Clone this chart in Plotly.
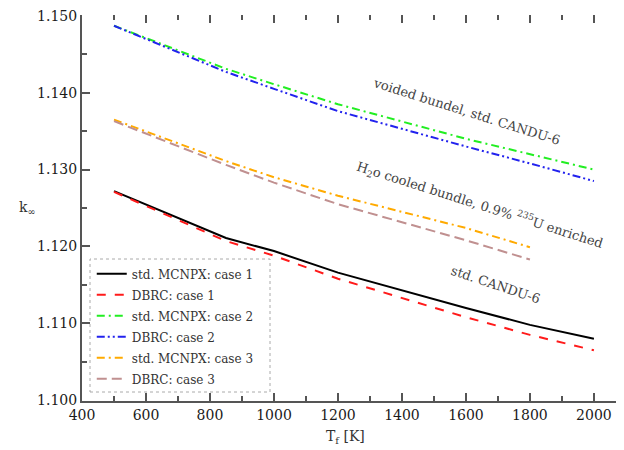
import plotly.graph_objects as go

T = [500, 850, 1000, 1200, 1600, 1800, 2000]
T3 = [500, 850, 1000, 1200, 1600, 1800]

std_case1 = [1.1272, 1.1211, 1.1194, 1.1166, 1.1120, 1.1098, 1.1080]
dbrc_case1 = [1.1271, 1.1207, 1.1188, 1.1158, 1.1108, 1.1085, 1.1065]
std_case2 = [1.1487, 1.1431, 1.1411, 1.1385, 1.1340, 1.1320, 1.1300]
dbrc_case2 = [1.1487, 1.1427, 1.1405, 1.1376, 1.1330, 1.1308, 1.1285]
std_case3 = [1.1365, 1.1311, 1.1290, 1.1266, 1.1224, 1.1199]
dbrc_case3 = [1.1363, 1.1306, 1.1283, 1.1255, 1.1208, 1.1183]

names = ["std. MCNPX: case 1", "DBRC: case 1", "std. MCNPX: case 2",
         "DBRC: case 2", "std. MCNPX: case 3", "DBRC: case 3"]

y_ticks = [1.100, 1.110, 1.120, 1.130, 1.140, 1.150]
y_ticklabels = ["1.100", "1.110", "1.120", "1.130", "1.140", "1.150"]

FONT = "DejaVu Serif"

series = [
    (T, std_case1, "black", "solid", 2),
    (T, dbrc_case1, "#ff1a1a", "dash", 2),
    (T, std_case2, "#22ee22", "8px,4px,2px,4px", 2),
    (T, dbrc_case2, "#2222ee", "8px,3px,2px,3px,2px,3px", 2),
    (T3, std_case3, "#ffaa00", "8px,4px,2px,4px", 2),
    (T3, dbrc_case3, "#c09090", "10px,5px", 2),
]

fig = go.Figure()
for i, ((xs, ys, c, d, w), n) in enumerate(zip(series, names)):
    fig.add_trace(go.Scatter(x=xs, y=ys, mode="lines", name=n, legendgroup="g%d" % i,
                             line=dict(color=c, dash=d, width=w)))

# invisible trace for mirrored top/right ticks
fig.add_trace(go.Scatter(x=[400], y=[1.1], xaxis="x2", yaxis="y2",
                         mode="markers", marker=dict(opacity=0),
                         showlegend=False, hoverinfo="skip"))

axcol = "#555555"
xr = [400, 2094]
yr = [1.0999, 1.1501]

# page body has an 8px margin, so the figure is 8px smaller than the window
fig.update_layout(
    width=616, height=442,
    margin=dict(l=74, r=0, t=7, b=49, autoexpand=False),
    plot_bgcolor="white", paper_bgcolor="white",
    font=dict(family=FONT, size=14, color="#1a1a1a"),
    xaxis=dict(range=xr, dtick=200, tick0=400, ticks="inside", ticklen=8,
               tickcolor=axcol, tickwidth=1.5, automargin=False,
               ticklabeloverflow="allow",
               showline=True, linecolor=axcol, linewidth=2, showgrid=False,
               zeroline=False,
               minor=dict(dtick=100, ticks="inside", ticklen=5, tickcolor=axcol),
               tickfont=dict(size=14)),
    yaxis=dict(range=yr, tickmode="array", tickvals=y_ticks, ticktext=y_ticklabels,
               ticks="inside", ticklen=8,
               tickcolor=axcol, tickwidth=1.5, automargin=False,
               ticklabeloverflow="allow",
               showline=True, linecolor=axcol, linewidth=2, showgrid=False,
               zeroline=False,
               minor=dict(dtick=0.005, tick0=1.1, ticks="inside", ticklen=5,
                          tickcolor=axcol),
               tickfont=dict(size=14)),
    xaxis2=dict(range=xr, dtick=200, tick0=400, overlaying="x", side="top",
                ticks="inside", ticklen=8, tickcolor=axcol, tickwidth=1.5,
                automargin=False,
                showticklabels=False, showline=False, showgrid=False, zeroline=False,
                minor=dict(dtick=100, ticks="inside", ticklen=5, tickcolor=axcol)),
    yaxis2=dict(range=yr, tickmode="array", tickvals=y_ticks, overlaying="y",
                side="right",
                ticks="inside", ticklen=8, tickcolor=axcol, tickwidth=1.5,
                automargin=False,
                showticklabels=False, showline=False, showgrid=False, zeroline=False,
                minor=dict(dtick=0.005, tick0=1.1, ticks="inside", ticklen=5,
                           tickcolor=axcol)),
    legend=dict(x=0.018, y=0.367, xanchor="left", yanchor="top",
                bgcolor="rgba(255,255,255,0)", borderwidth=0,
                font=dict(family=FONT, size=12, color="#333333"),
                itemwidth=30, tracegroupgap=2, traceorder="grouped"),
    showlegend=True,
)

# axis titles
fig.add_annotation(x=(345 - 82) / 542, y=-(437 - 401) / 386, xref="paper", yref="paper",
                   xanchor="center", yanchor="middle",
                   showarrow=False, text="T<sub>f</sub> [K]",
                   font=dict(family=FONT, size=14, color="#333333"))
fig.add_annotation(x=-(82 - 27) / 542, y=(401 - 208) / 386, xref="paper", yref="paper",
                   xanchor="center", yanchor="middle",
                   showarrow=False, text="k<sub>∞</sub>",
                   font=dict(family=FONT, size=14, color="#333333"))

# dotted legend frame
fig.add_shape(type="rect", xref="paper", yref="paper",
              x0=(90 - 82) / 542, x1=(270 - 82) / 542,
              y0=(401 - 392) / 386, y1=(401 - 259) / 386,
              line=dict(color="#aaaaaa", width=1, dash="dot"))

ann_font = dict(family=FONT, size=13, color="#444444")
fig.add_annotation(x=1603, y=1.1376, xref="x", yref="y", showarrow=False,
                   text="voided bundel, std. CANDU-6", textangle=17.5, font=ann_font)
fig.add_annotation(x=1644, y=1.1254, xref="x", yref="y", showarrow=False,
                   text="H<sub>2</sub>o cooled bundle, 0.9% <sup>235</sup>U enriched",
                   textangle=17.6, font=ann_font)
fig.add_annotation(x=1691, y=1.1150, xref="x", yref="y", showarrow=False,
                   text="std. CANDU-6", textangle=18.4, font=ann_font)

fig.write_html("out.html")
